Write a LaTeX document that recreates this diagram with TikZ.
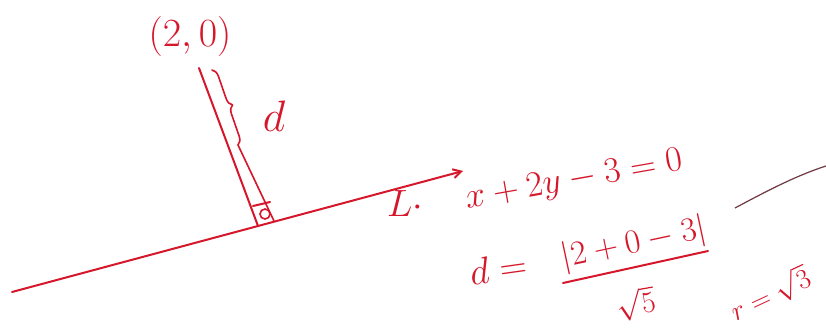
\RequirePackage{fix-cm}
\documentclass[tikz,border=0pt]{standalone}
\usetikzlibrary{arrows.meta,decorations.pathreplacing}
\definecolor{ink}{RGB}{214,22,42}
\definecolor{pencil}{RGB}{110,55,65}
\begin{document}
\begin{tikzpicture}[x=1pt,y=-1pt,
  hw/.style={text=ink, font=\fontsize{38}{40}\selectfont, inner sep=0pt},
  pen/.style={draw=ink, line width=2pt, line cap=round, line join=round}]
\useasboundingbox[fill=white] (0,0) rectangle (826,327);
% main line with arrow
\coordinate (A) at (12,292);
\coordinate (B) at (463,171);
\draw[pen, -{Straight Barb[length=8pt,width=9pt]}] (A) -- (B);
% point and perpendicular
\node[hw, font=\fontsize{40}{42}\selectfont] (pt) at (190,36) {$(2,0)$};
\coordinate (P) at (199,68);
\coordinate (F) at (258,226);
\draw[pen] (P) -- (F);
% brace and its tail
\coordinate (Bt) at (212,70);
\coordinate (Bb) at (238,145);
\coordinate (G) at (274,221);
\draw[pen, line width=1.6pt, decorate, decoration={brace, amplitude=8pt}] (Bt) -- (Bb);
\draw[pen, line width=1.6pt] (Bb) -- (G);
\node[hw, font=\fontsize{44}{46}\selectfont] (d) at (274,116) {$d$};
% right angle mark
\coordinate (R1) at (253,206);
\coordinate (R2) at (270,202);
\draw[pen] (R1) -- (R2);
\node[draw=ink, line width=1.6pt, circle, minimum size=10pt, inner sep=0pt] (ra) at (265,214) {};
% line label and equation
\node[hw] (L) at (405,204) {$L\cdot$};
\node[hw, font=\fontsize{36}{38}\selectfont, rotate=10] (eq) at (574,181) {$x+2y-3=0$};
% distance formula
\node[hw, rotate=8] (dd) at (498,268) {$d=$};
\node[hw, font=\fontsize{34}{36}\selectfont, rotate=12] (num) at (634,244) {$|2+0-3|$};
\coordinate (F1) at (563,283);
\coordinate (F2) at (708,251);
\draw[pen] (F1) -- (F2);
\node[hw, font=\fontsize{30}{32}\selectfont, rotate=10] (den) at (636,304) {$\sqrt{5}$};
% radius
\node[hw, font=\fontsize{28}{30}\selectfont, rotate=25] (r) at (770,294) {$r=\sqrt{3}$};
% pencil arc
\coordinate (C1) at (735,208);
\coordinate (C2) at (826,166);
\draw[pencil, line width=1.2pt] (C1) .. controls (765,192) and (795,176) .. (C2);
\end{tikzpicture}
\end{document}
